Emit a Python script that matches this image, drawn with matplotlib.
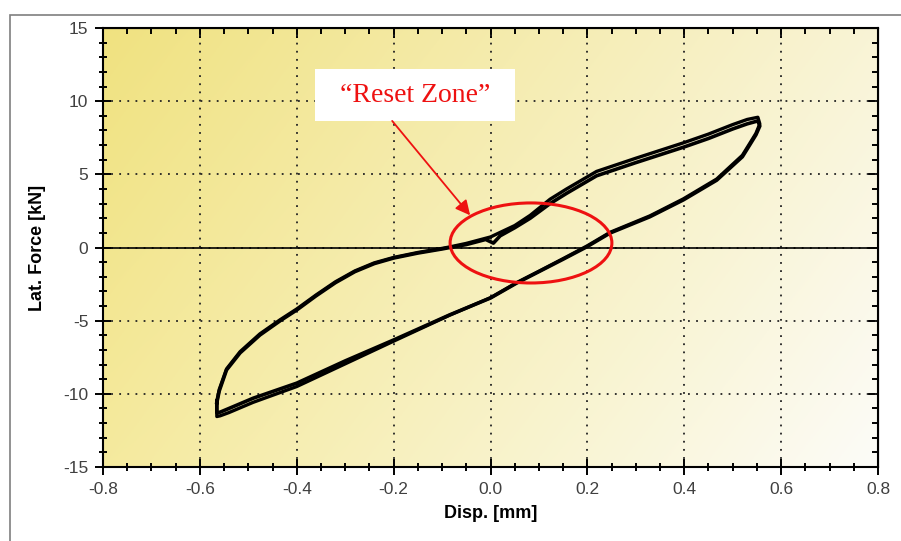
import matplotlib
matplotlib.use("Agg")
import matplotlib.pyplot as plt
import numpy as np
from matplotlib.patches import Ellipse, Rectangle
from matplotlib.ticker import MultipleLocator

# hysteresis loop, cycle 1
x_c1 = [-0.565, -0.56, -0.545, -0.517, -0.476, -0.434, -0.40, -0.36, -0.32, -0.28,
        -0.24, -0.20, -0.15, -0.10, -0.084, -0.05, -0.01, 0.006, 0.02, 0.05, 0.082,
        0.123, 0.157, 0.219, 0.30, 0.398, 0.45, 0.50, 0.53, 0.552,
        0.556, 0.548, 0.535, 0.52, 0.467, 0.398, 0.329, 0.247, 0.199, 0.15, 0.10,
        0.054, 0.0, -0.084, -0.20, -0.30, -0.40, -0.49, -0.54, -0.558, -0.565, -0.565]
y_c1 = [-10.6, -9.8, -8.37, -7.2, -5.98, -5.0, -4.27, -3.3, -2.4, -1.65,
        -1.1, -0.72, -0.38, -0.1, 0.0, 0.2, 0.55, 0.3, 0.8, 1.35, 2.0,
        3.0, 3.7, 4.9, 5.8, 6.85, 7.45, 8.1, 8.45, 8.65,
        8.3, 7.7, 7.0, 6.2, 4.6, 3.25, 2.1, 0.99, 0.05, -0.8, -1.65,
        -2.43, -3.45, -4.6, -6.32, -7.75, -9.27, -10.3, -11.0, -11.25, -11.3, -10.6]

# cycle 2, slightly shifted branches
x_c2 = [-0.565, -0.56, -0.545, -0.517, -0.476, -0.434, -0.40, -0.36, -0.32, -0.28,
        -0.24, -0.20, -0.15, -0.10, -0.084, -0.05, 0.0, 0.05, 0.082,
        0.123, 0.157, 0.219, 0.30, 0.398, 0.45, 0.50, 0.53, 0.552,
        0.556, 0.548, 0.535, 0.52, 0.467, 0.398, 0.329, 0.247, 0.199, 0.15, 0.10,
        0.054, 0.0, -0.084, -0.20, -0.30, -0.40, -0.49, -0.54, -0.558, -0.565, -0.565]
y_c2 = [-10.5, -9.7, -8.3, -7.12, -5.9, -4.93, -4.2, -3.24, -2.34, -1.6,
        -1.05, -0.68, -0.34, -0.06, 0.04, 0.28, 0.72, 1.5, 2.2,
        3.3, 4.0, 5.2, 6.1, 7.15, 7.75, 8.4, 8.75, 8.9,
        8.45, 7.8, 7.1, 6.3, 4.68, 3.32, 2.16, 1.04, 0.1, -0.76, -1.62,
        -2.4, -3.43, -4.62, -6.4, -7.95, -9.5, -10.58, -11.28, -11.5, -11.55, -10.5]

x_ticks = [-0.8, -0.6, -0.4, -0.2, 0.0, 0.2, 0.4, 0.6, 0.8]
y_ticks = [-15, -10, -5, 0, 5, 10, 15]

plt.rcParams['font.family'] = ['Liberation Sans', 'DejaVu Sans']
plt.rcParams['axes.unicode_minus'] = False

fig = plt.figure(figsize=(9.01, 5.41), dpi=100)

# outer gray frame
fig.patches.append(Rectangle((10 / 901, -0.1), 1.0, 1 - 15 / 541 + 0.1,
                             transform=fig.transFigure, fill=False,
                             edgecolor='#7f7f7f', lw=1.2))

ax = fig.add_axes([103 / 901, 74 / 541, 775 / 901, 439 / 541])

# yellow (top left) to white (bottom right) background
tl = np.array([240, 226, 128]) / 255
tr = np.array([249, 244, 214]) / 255
bl = np.array([245, 234, 158]) / 255
br = np.array([252, 252, 248]) / 255
u = np.linspace(0, 1, 300)[None, :, None]
v = np.linspace(0, 1, 200)[:, None, None]
bg = (1 - v) * ((1 - u) * tl + u * tr) + v * ((1 - u) * bl + u * br)
ax.imshow(bg, extent=[-0.8, 0.8, -15, 15], aspect='auto', origin='upper', zorder=0)

ax.set_xlim(-0.8, 0.8)
ax.set_ylim(-15, 15)
ax.set_xticks(x_ticks)
ax.set_yticks(y_ticks)
ax.set_xticklabels([f"{v:.1f}" for v in x_ticks])
ax.xaxis.set_minor_locator(MultipleLocator(0.05))
ax.yaxis.set_minor_locator(MultipleLocator(1))
ax.tick_params(which='major', direction='inout', length=11, width=1.4,
               labelsize=12.5, labelcolor='#404040', pad=5)
ax.tick_params(which='minor', direction='inout', length=6, width=1.4)
for s in ax.spines.values():
    s.set_linewidth(1.5)

# inward ticks on top and right
top = ax.secondary_xaxis('top')
top.set_xticks(x_ticks)
top.xaxis.set_minor_locator(MultipleLocator(0.05))
top.tick_params(which='major', direction='in', length=7, width=1.4, labeltop=False)
top.tick_params(which='minor', direction='in', length=4, width=1.4)
right = ax.secondary_yaxis('right')
right.set_yticks(y_ticks)
right.yaxis.set_minor_locator(MultipleLocator(1))
right.tick_params(which='major', direction='in', length=7, width=1.4, labelright=False)
right.tick_params(which='minor', direction='in', length=4, width=1.4)

ax.grid(True, which='major', color='#222222', linestyle=(0, (1, 3.5)), linewidth=1.3)
ax.axhline(0, color='black', lw=1.2, zorder=2)

ax.plot(x_c1, y_c1, color='black', lw=2.6, zorder=3)
ax.plot(x_c2, y_c2, color='black', lw=2.4, zorder=3)

ax.set_xlabel('Disp. [mm]', fontsize=13, fontweight='bold', labelpad=6)
ax.set_ylabel('Lat. Force [kN]', fontsize=13, fontweight='bold', labelpad=12)

# "Reset Zone" annotation
ax.add_patch(Rectangle((-0.362, 8.65), 0.4126, 3.55, facecolor='white',
                       edgecolor='none', zorder=4))
ax.text(-0.156, 10.4, '\u201cReset Zone\u201d', color='#ee1111', fontsize=20,
        family=['Liberation Serif', 'DejaVu Serif'], ha='center', va='center', zorder=5)
ax.annotate('', xy=(-0.042, 2.2), xytext=(-0.203, 8.65),
            arrowprops=dict(arrowstyle='-|>', color='#ee1111', lw=1.3,
                            mutation_scale=22, shrinkA=0, shrinkB=0), zorder=5)
ax.add_patch(Ellipse((0.0836, 0.31), 0.334, 5.47, fill=False,
                     edgecolor='#ee1111', lw=2.2, zorder=5))

fig.savefig('out.png', dpi=100)
